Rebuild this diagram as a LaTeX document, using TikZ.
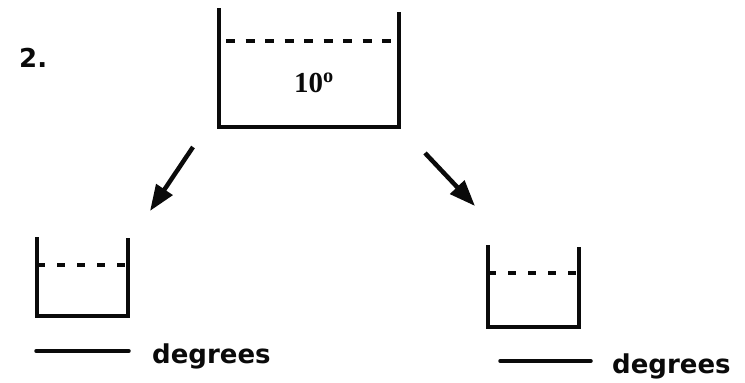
\documentclass[tikz,border=0pt]{standalone}
\usepackage{fontspec}
\setmainfont{DejaVu Sans}
\newfontfamily\serifschrift{Liberation Serif}
\usetikzlibrary{arrows.meta}
\definecolor{tinte}{HTML}{0A0A0A}
\newcommand\schrift{\fontsize{26}{30}\selectfont\bfseries}
\newcommand\zahlf{\serifschrift\fontsize{29}{32}\selectfont\bfseries}
% Becher: Wände und Boden, #1/#2 linke/rechte Wand, #3/#4 Oberkante, #5 Boden
\newcommand\becher[5]{\draw[wand] (#1,#3) -- (#1,#5) -- (#2,#5) -- (#2,#4);}

\begin{document}
\begin{tikzpicture}[x=1pt,y=-1pt]
\useasboundingbox (0,0) rectangle (745,383);
\tikzset{wand/.style={tinte,line width=4pt,line join=miter},
  wasser/.style={tinte,line width=4pt,dash pattern=on 8pt off 12pt},
  pfeil/.style={tinte,line width=4.5pt,-{Triangle[length=26pt,width=19pt]}},
  leer/.style={tinte,line width=3.5pt,line cap=round}}

% ---- Aufgabe 2: großer Becher mit 10 Grad
\node[anchor=base west,inner sep=0,font=\schrift,text=tinte] (nr) at (19,67) {2.};
\becher{219}{399}{8}{12}{127}
\draw[wasser,dash pattern=on 9pt off 10.5pt] (226,41) -- (392,41);
\node[anchor=base west,inner sep=0,font=\zahlf,text=tinte] (temp) at (294,92) {10\textsuperscript{o}};

% ---- Pfeile zu den kleinen Bechern
\coordinate (pl0) at (193,147);
\coordinate (pl1) at (150,211);
\coordinate (pr0) at (425,153);
\coordinate (pr1) at (475,206);
\draw[pfeil] (pl0) -- (pl1);
\draw[pfeil] (pr0) -- (pr1);

% ---- kleine Becher, Wasserstand gestrichelt bis an die Wände
\becher{37}{128}{237}{238}{316}
\draw[wasser] (37,265) -- (128,265);
\becher{488}{579}{245}{247}{327}
\draw[wasser] (488,273) -- (579,273);

% ---- Lücken zum Eintragen
\draw[leer] (36,351) -- (129,351);
\node[anchor=base west,inner sep=0,font=\schrift,text=tinte] (gradl) at (152,363) {degrees};
\draw[leer] (500,361) -- (591,361);
\node[anchor=base west,inner sep=0,font=\schrift,text=tinte] (gradr) at (612,373) {degrees};
\end{tikzpicture}
\end{document}
